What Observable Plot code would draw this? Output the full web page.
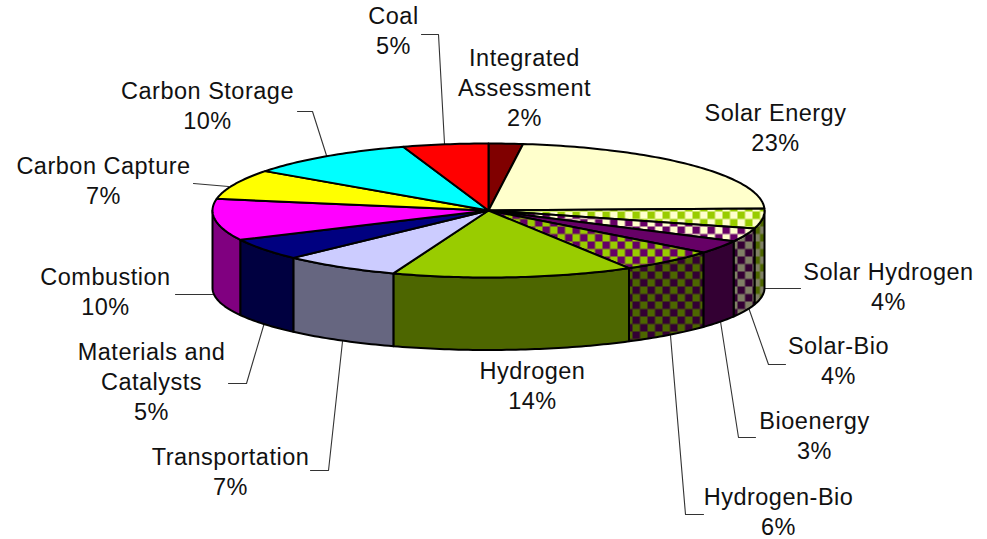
<!DOCTYPE html>
<html>
<head>
<meta charset="utf-8">
<script src="https://cdn.jsdelivr.net/npm/d3@7"></script>
<script src="https://cdn.jsdelivr.net/npm/@observablehq/plot@0.6"></script>
<style>html,body{margin:0;padding:0;background:#fff}svg{display:block}</style>
</head>
<body>
<div id="chart"></div>
<script>
// Data, clockwise from 12 o'clock
const names = ["Integrated\nAssessment","Solar Energy","Solar Hydrogen","Solar-Bio","Bioenergy","Hydrogen-Bio","Hydrogen","Transportation","Materials and\nCatalysts","Combustion","Carbon Capture","Carbon Storage","Coal"];
const shares = [2,22.5,4.8,3.3,3.2,5.7,14.1,6.9,5.3,10,7.2,10,5];
const percents = ["2%","23%","4%","4%","3%","6%","14%","7%","5%","10%","7%","10%","5%"];

// Styles
const topFills = ["#800000","#FFFFCC","url(#shTop)","url(#sbTop)","#660066","url(#hbTop)","#99CC00","#CCCCFF","#000080","#FF00FF","#FFFF00","#00FFFF","#FF0000"];
const sideFills = ["#400000","#808066","url(#shSide)","url(#sbSide)","#330033","url(#hbSide)","#4D6600","#666680","#000040","#800080","#808000","#008080","#800000"];
const checkers = [["shTop","#99CC00","#FFFFCC"],["sbTop","#660066","#FFFFCC"],["hbTop","#660066","#99CC00"],["shSide","#4D6600","#808066"],["sbSide","#330033","#808066"],["hbSide","#330033","#4D6600"]];

// Layout
const labelX = [524,775,888,838,814,778,532,230,151,105,103,207,393];
const labelY = [86,126,285,359,434,510,384,470,380,290,179,104,29];
const leaders = [
  [[421,34],[438,34],[444,143]],
  [[297,111],[312,111],[326,155]],
  [[193,183],[228,186]],
  [[175,294],[212,294]],
  [[228,383],[246,383],[264,322]],
  [[310,470],[328,470],[342,341]],
  [[703,514],[685,514],[670,335]],
  [[755,437],[738,437],[720,321]],
  [[785,364],[768,364],[748,307]],
  [[763,288],[800,288]]
];
const cx = 488, rx = 276, topCy = 210, topRy = 67, botCy = 287.5, botRy = 62;
const FONT = "'Liberation Sans', Arial, sans-serif";

const topPt = a => [cx + rx*Math.sin(a), topCy - topRy*Math.cos(a)];
const botPt = a => [cx + rx*Math.sin(a), botCy - botRy*Math.cos(a)];
const samples = (a0,a1) => {
  const n = Math.max(2, Math.ceil((a1-a0)/(Math.PI/180)));
  return d3.range(n+1).map(i => a0 + (a1-a0)*i/n);
};
const total = d3.sum(shares);
const ends = d3.cumsum(shares).map(v => v/total*2*Math.PI);
const slices = shares.map((s,i) => ({a0: i ? ends[i-1] : 0, a1: ends[i], top: topFills[i], side: sideFills[i]}));

const marks = [];
// Pattern definitions
marks.push(() => {
  const defs = d3.create("svg:defs");
  for (const [id,a,b] of checkers) {
    const p = defs.append("pattern").attr("id",id).attr("patternUnits","userSpaceOnUse")
      .attr("width",15).attr("height",15).attr("x",2).attr("y",1);
    p.append("rect").attr("width",15).attr("height",15).attr("fill",b);
    p.append("rect").attr("width",7.5).attr("height",7.5).attr("fill",a);
    p.append("rect").attr("x",7.5).attr("y",7.5).attr("width",7.5).attr("height",7.5).attr("fill",a);
  }
  return defs.node();
});
// Leader lines
for (const l of leaders) {
  marks.push(Plot.line(l,{x:d=>d[0],y:d=>d[1],stroke:"#333",strokeWidth:1.1}));
}
// Side walls: only the front half of the rim is visible
for (const s of slices) {
  const a0 = Math.max(s.a0, Math.PI/2), a1 = Math.min(s.a1, 3*Math.PI/2);
  if (a1 <= a0) continue;
  const arc = samples(a0,a1);
  const poly = [...arc.map(topPt), ...arc.slice().reverse().map(botPt)];
  poly.push(poly[0]);
  marks.push(Plot.line(poly,{x:d=>d[0],y:d=>d[1],fill:s.side,stroke:"#000",strokeWidth:2}));
}
// Top wedges
for (const s of slices) {
  const poly = [[cx,topCy], ...samples(s.a0,s.a1).map(topPt), [cx,topCy]];
  marks.push(Plot.line(poly,{x:d=>d[0],y:d=>d[1],fill:s.top,stroke:"#000",strokeWidth:2}));
}
// Labels
const labels = names.map((n,i) => ({x:labelX[i],y:labelY[i],text:n+"\n"+percents[i]}));
marks.push(Plot.text(labels,{x:"x",y:"y",text:"text",fontSize:23.5,lineHeight:30/23.5,fill:"#111",fontFamily:FONT,
  render(index,scales,values,dims,ctx,next){
    const g = next(index,scales,values,dims,ctx);
    g.setAttribute("letter-spacing","0.5");
    return g;
  }}));

const plot = Plot.plot({
  width:987,height:539,margin:0,
  x:{domain:[0,987],range:[0,987],axis:null},
  y:{domain:[0,539],range:[0,539],axis:null},
  style:{background:"#fff",fontFamily:FONT},
  marks
});
document.getElementById("chart").append(plot);
</script>
</body>
</html>
